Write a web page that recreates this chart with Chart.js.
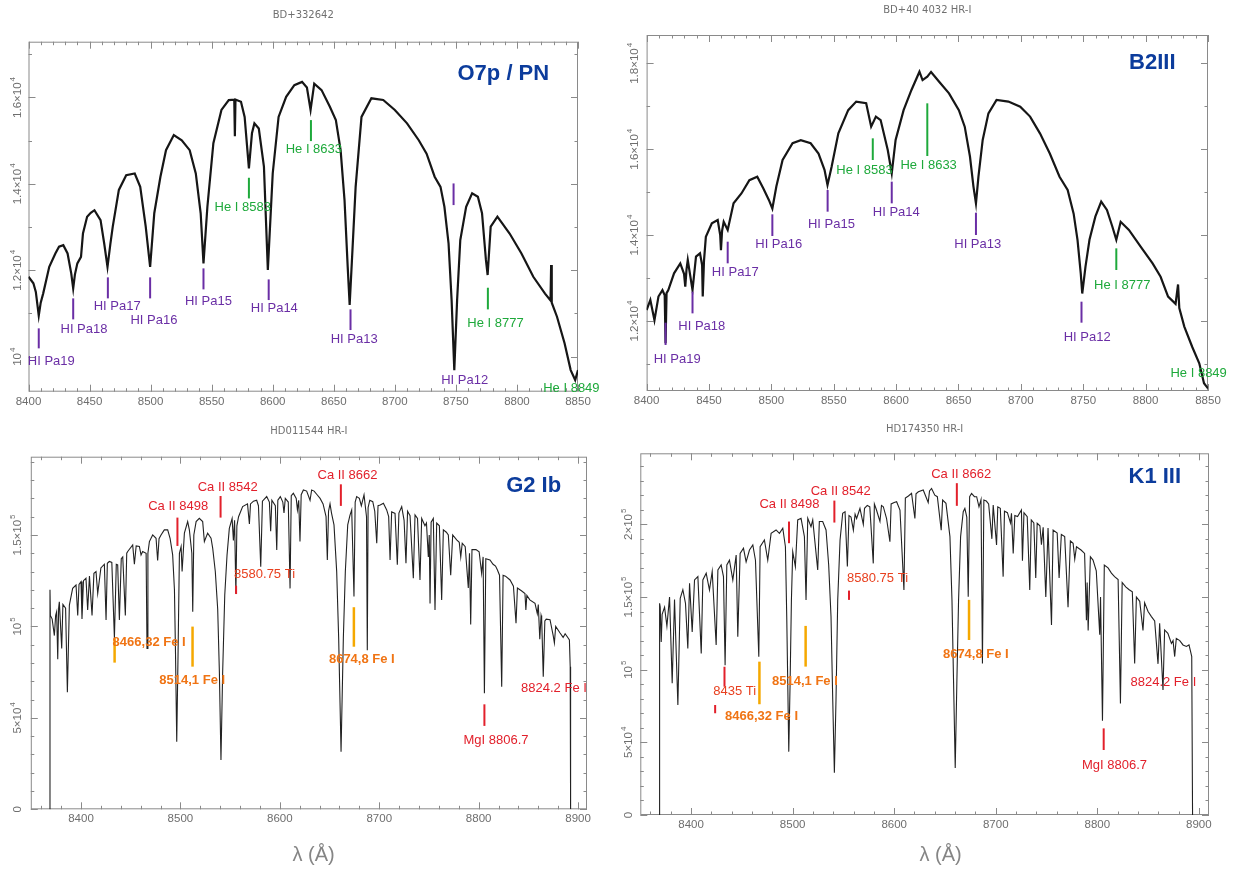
<!DOCTYPE html>
<html>
<head>
<meta charset="utf-8">
<title>CaT region spectra</title>
<script src="https://cdn.jsdelivr.net/npm/chart.js@4.4.1/dist/chart.umd.min.js"></script>
<style>
  body { margin: 0; background: #fff; width: 1233px; height: 871px; overflow: hidden; position: relative; }
  .panel { position: absolute; }
</style>
</head>
<body>
<div class="panel" style="left:0;top:0;width:616px;height:420px"><canvas id="p1"></canvas></div>
<div class="panel" style="left:616px;top:0;width:617px;height:420px"><canvas id="p2"></canvas></div>
<div class="panel" style="left:0;top:420px;width:616px;height:451px"><canvas id="p3"></canvas></div>
<div class="panel" style="left:616px;top:420px;width:617px;height:451px"><canvas id="p4"></canvas></div>
<script>
// star names and spectral types, one per panel
const starNames = ["BD+332642", "BD+40 4032 HR-I", "HD011544 HR-I", "HD174350 HR-I"];
const spectralTypes = ["O7p / PN", "B2III", "G2 Ib", "K1 III"];

// tick labels
const topXLabels = [8400, 8450, 8500, 8550, 8600, 8650, 8700, 8750, 8800, 8850];
const bottomXLabels = [8400, 8500, 8600, 8700, 8800, 8900];
// [value, mantissa, exponent]
const o7YLabels = [[10000, "", "4"], [12000, "1.2", "4"], [14000, "1.4", "4"], [16000, "1.6", "4"]];
const b2YLabels = [[12000, "1.2", "4"], [14000, "1.4", "4"], [16000, "1.6", "4"], [18000, "1.8", "4"]];
const g2YLabels = [[0, "0", ""], [50000, "5", "4"], [100000, "", "5"], [150000, "1.5", "5"]];
const k1YLabels = [[0, "0", ""], [50000, "5", "4"], [100000, "", "5"], [150000, "1.5", "5"], [200000, "2", "5"]];

// spectra: [wavelength (A), flux]
const o7Spectrum = [
  [8400,11850],[8404,11700],[8406,11500],[8408.4,10950],[8410,11250],[8412,11460],[8417,12080],[8422,12390],
  [8425,12545],[8428.5,12580],[8432,12390],[8435,11930],[8436.6,11580],[8438,11900],[8440,12160],[8443,12310],
  [8444.6,12850],[8448,13240],[8451,13330],[8454,13390],[8459,13160],[8462,12620],[8464.7,12080],[8467,12600],
  [8469,13010],[8474,13860],[8480,14200],[8487,14240],[8491.5,13930],[8496,13010],[8499.6,12080],[8503,13320],
  [8508,14160],[8512.6,14780],[8519,15130],[8525.5,15010],[8532,14780],[8537,14240],[8541,13320],[8543.3,12160],
  [8546.5,13470],[8551.4,14940],[8558,15710],[8564,15940],[8568.5,15950],[8569,15100],[8569.5,15950],[8574,15900],
  [8577,15550],[8580.5,14360],[8583,15170],[8585,15400],[8588.6,15280],[8592.8,14400],[8596,12010],[8600,14240],
  [8604.8,15550],[8611,16015],[8617.7,16285],[8624,16360],[8628,16230],[8631,15710],[8634,16320],[8640,16170],
  [8646.8,15785],[8651.7,15475],[8655.6,14780],[8658.8,13625],[8661.4,12080],[8663,11200],[8665.3,12470],[8667.9,13930],
  [8672.7,15550],[8680.8,15980],[8690.5,15940],[8700,15710],[8710,15400],[8719.6,15010],[8726,14700],[8732.6,14165],
  [8737.4,13930],[8740.6,13470],[8744,12620],[8746.5,11310],[8748.7,9690],[8751,11310],[8753.6,12700],[8758.4,13470],
  [8763.3,13780],[8768,13700],[8771.4,13320],[8774.6,12240],[8776,11890],[8778.5,13010],[8784,13240],[8794,12850],
  [8803.7,12390],[8813.4,11850],[8823,11460],[8827.5,11300],[8828,12120],[8828.5,11250],[8832.8,10925],[8839,10310],
  [8844,9690],[8847.7,9460],[8850,9690]
];

const b2Spectrum = [
  [8400,12256],[8403,12490],[8406.3,12020],[8409.5,12570],[8412.7,12720],[8414.5,12600],[8415.2,11480],[8416,12650],
  [8417.4,12720],[8422,13110],[8427,13340],[8430,13100],[8431,12800],[8432,13200],[8433,13420],[8436.8,12720],
  [8439.6,13500],[8442.8,13575],[8444.5,13300],[8445,12570],[8446,13400],[8447.5,13960],[8452.3,14275],[8457,14350],
  [8459,14000],[8459.6,13650],[8460.5,14100],[8461.8,14310],[8465,14120],[8469.7,14740],[8476,14970],[8482.4,15280],
  [8488.7,15360],[8493.5,15090],[8498,14820],[8500.8,14620],[8504,15130],[8509,15750],[8517,16140],[8523.6,16210],
  [8531.5,16140],[8537.8,15900],[8542.6,15520],[8545,15170],[8548.3,15590],[8553.7,16370],[8561.6,16910],[8568,17110],
  [8576,17070],[8580,16525],[8583.8,16760],[8587.6,16680],[8593.3,15980],[8596.5,15440],[8599.6,16215],[8606,16910],
  [8612.3,17380],[8618.7,17805],[8621.2,17610],[8625,17690],[8628,17800],[8634.5,17570],[8642.4,17300],[8650.3,16910],
  [8655,16525],[8659.2,15830],[8662,15130],[8664,14740],[8666,15360],[8669.4,16215],[8674,16835],[8680.5,17150],
  [8690,17110],[8699.5,16990],[8707.4,16760],[8715.3,16370],[8723.2,15900],[8731,15360],[8737.5,15050],[8742.3,14500],
  [8745.4,13890],[8748,13110],[8749.2,12640],[8751.8,13265],[8755,13890],[8759.7,14430],[8764.4,14780],[8769,14585],
  [8773.3,14200],[8776.5,13890],[8780,14310],[8786.6,14120],[8796,13730],[8805.6,13340],[8812,13030],[8818,12570],
  [8824,12400],[8826,12850],[8827,12300],[8831,11870],[8837.3,11400],[8843,11015],[8846.8,10550],[8850,10430]
];

const g2Spectrum = [
  [8368.5,0],[8368.8,120000],[8369.2,106000],[8371,104000],[8373.2,95000],[8374.5,106000],[8375.5,108000],[8376.6,82000],
  [8377.5,110000],[8378.2,113500],[8380.6,88000],[8381.8,112000],[8384.5,110000],[8386.3,64000],[8388.3,111700],[8391.6,120800],
  [8395,122600],[8396.7,106000],[8398,123000],[8400,124500],[8401,104000],[8402.5,125000],[8405,126300],[8406.7,109000],
  [8408.5,127500],[8411.1,106000],[8413,129000],[8415.1,130000],[8416.8,118000],[8420,132000],[8423.5,134000],[8425.2,103500],
  [8426.5,134500],[8428.5,135500],[8431,135000],[8433.6,93500],[8435.5,134000],[8436.9,133700],[8438.6,103500],[8440.5,137000],
  [8442,138000],[8444.6,106000],[8446,140000],[8447,141000],[8452,144600],[8453.7,134000],[8455.5,144000],[8458.7,143700],
  [8460.4,139100],[8462,141000],[8465.5,140000],[8466.4,88000],[8467.3,140000],[8468.8,146400],[8472.1,150000],[8475.5,148200],
  [8477.1,136000],[8478.5,148000],[8480.5,150000],[8483.8,152800],[8487.2,152800],[8489.6,148200],[8492.2,139100],[8494,120000],
  [8495.1,84000],[8496.3,37000],[8497.6,84000],[8499,140000],[8500.7,143700],[8501.7,130000],[8504,151000],[8507.3,157300],
  [8509,152800],[8511.5,140000],[8512.4,108000],[8513.5,150000],[8515.8,157300],[8519,159100],[8522.4,157300],[8524.1,146400],
  [8527.4,151000],[8530.8,148200],[8532.5,142700],[8535.1,130000],[8537.5,109500],[8539.2,75000],[8540.8,27000],[8542.5,75000],
  [8544.6,117000],[8546.9,139000],[8549.2,153600],[8552,159000],[8553.3,147000],[8554.5,158000],[8555.8,118000],[8556.8,155000],
  [8558.5,160000],[8562.6,165500],[8567.5,167000],[8569.4,156000],[8570.5,167000],[8573.5,168500],[8576.7,169000],[8578.5,166000],
  [8580.8,132700],[8582.5,168500],[8586.8,171000],[8589.5,168000],[8590.8,152000],[8592,169000],[8595.5,166000],[8596.9,141800],
  [8598,169000],[8600.5,171000],[8603,168000],[8604.2,162000],[8605.5,170000],[8608.5,168000],[8610.3,120800],[8611.5,171500],
  [8613.6,172800],[8616.5,170000],[8617.7,163700],[8619,169000],[8620.3,146400],[8621.5,172000],[8623.7,174600],[8627,174000],
  [8630.4,169000],[8632,174600],[8634.5,174000],[8637.5,172000],[8640.5,170000],[8643.5,167000],[8646.5,160000],[8647.8,136300],
  [8649,163000],[8650.5,167000],[8652,162000],[8654.5,155500],[8657.2,130000],[8659.2,93500],[8661.6,31500],[8663.9,93500],
  [8665.9,130000],[8668.3,155500],[8670.6,160900],[8672.3,163700],[8674.6,116300],[8675.8,168000],[8677.3,171000],[8680,170000],
  [8682,166000],[8684.7,171900],[8687.2,160000],[8688,87000],[8688.8,165000],[8690.5,169000],[8693.5,168200],[8695.5,163000],
  [8697.5,145500],[8698.8,166000],[8701,166400],[8704.2,167300],[8707.5,163700],[8709.5,160000],[8710.9,136300],[8712.5,162700],
  [8715.9,161800],[8718.2,133700],[8719.8,162000],[8722.6,165500],[8725,158000],[8726.9,134500],[8728.5,163000],[8731,160500],
  [8734.3,126300],[8736,161000],[8738.5,159000],[8741,125400],[8742.7,159000],[8746,155000],[8747.5,156500],[8749.4,138000],
  [8750.3,150000],[8751.1,112600],[8752.2,157000],[8754.4,159000],[8756.1,109000],[8757.8,156500],[8760.5,155000],[8762.8,114500],
  [8764.5,152800],[8767.5,151500],[8769.5,150000],[8771.9,128000],[8773.9,150000],[8777.9,147300],[8780.5,146000],[8782,138000],
  [8783.5,145500],[8786.5,143600],[8789.6,121000],[8790.8,140000],[8792,101000],[8793.3,142000],[8797.3,142000],[8800.5,140800],
  [8803,129000],[8804.5,138000],[8805.8,63400],[8807.2,137000],[8811.4,136300],[8814.5,134000],[8817,133000],[8818.8,131000],
  [8821,128000],[8823.2,67000],[8824.6,128000],[8827,127500],[8831.6,125400],[8835,122000],[8837.6,101700],[8839,121000],
  [8843,119500],[8846.6,118000],[8847.5,109000],[8848.5,117000],[8851.5,114500],[8856.7,112600],[8859,107000],[8860,112000],
  [8861.5,93000],[8862.8,106000],[8863.4,104400],[8865,72500],[8866.6,103000],[8868,104000],[8871.8,103700],[8875,95000],
  [8876.2,91000],[8877.5,100000],[8881.9,96400],[8885,94000],[8887,96000],[8890.2,93500],[8891.3,92600],[8892.1,78000],
  [8892.5,0]
];

const k1Spectrum = [
  [8368.8,0],[8369,145600],[8369.6,143000],[8370.6,119000],[8371.5,138000],[8373.9,143000],[8376.2,130000],[8378.8,149900],
  [8381.4,90600],[8383.7,148200],[8387,75700],[8389.3,149000],[8391.9,155000],[8394.5,145600],[8396.8,114600],[8398.5,159400],
  [8401.1,126000],[8403.4,161700],[8406.7,164000],[8410,111200],[8411.6,161700],[8414.9,166300],[8418.1,154800],[8420.8,167500],
  [8424.7,116900],[8426.4,168600],[8429.6,172000],[8431.9,164000],[8433.5,103000],[8435.2,172000],[8437.8,175300],[8441.1,161700],
  [8444.4,178800],[8446,122700],[8448.3,179900],[8451.6,183500],[8454.2,174200],[8457.5,182300],[8460.8,185800],[8463.4,175300],
  [8466.7,108900],[8468,184600],[8472.2,189200],[8475.5,175300],[8478.8,193800],[8483.7,196100],[8487,193800],[8490.3,197300],
  [8492.9,184600],[8494.2,136500],[8495.2,90600],[8496.2,43600],[8497.5,90600],[8498.8,147900],[8500.1,181200],[8502.7,170900],
  [8505,203000],[8508.3,204100],[8511.6,191500],[8513.2,147900],[8514.9,204100],[8518.1,198400],[8519.8,203000],[8524.7,168600],
  [8526.3,201900],[8529.6,201900],[8532.9,196100],[8535.5,172000],[8537.8,136500],[8539.5,79100],[8541.1,29100],[8542.7,79100],
  [8544.4,147900],[8546.7,189200],[8549.3,207600],[8551.6,208700],[8553.9,170900],[8555.5,206000],[8557.5,205000],[8559.8,196000],
  [8561.5,207000],[8563,204000],[8566.3,210900],[8569.6,200000],[8570.8,211000],[8573.5,213000],[8576,212000],[8579.4,173100],
  [8580.5,214000],[8582.5,210000],[8586,202000],[8587.5,213000],[8589.3,212100],[8592.5,204000],[8595.8,188000],[8597,214000],
  [8600,215000],[8602.4,215500],[8605.7,209800],[8609.6,154800],[8611,218000],[8614,219500],[8617.1,221300],[8620.4,204000],
  [8621.5,221000],[8623.8,222400],[8628.6,223600],[8633.5,215000],[8634.8,223000],[8636.8,224700],[8640,220000],[8642.5,219000],
  [8646.3,196000],[8647.7,216700],[8651,214400],[8654.9,191500],[8656.9,147900],[8658.5,90600],[8660.1,32300],[8661.7,90600],
  [8663.4,147900],[8665.4,191500],[8668,208700],[8669.6,210900],[8671.5,205000],[8672.9,150200],[8674.3,219000],[8676.2,221300],
  [8679,219000],[8681.2,219000],[8683.5,212000],[8685.5,217000],[8686.9,104300],[8688.3,216700],[8690.7,216000],[8693,214000],
  [8696.2,190000],[8697.5,213200],[8700.8,185800],[8702,212000],[8704.5,211000],[8707.3,164000],[8708.6,209000],[8711.5,208000],
  [8714.5,201000],[8715.5,207600],[8717.2,180000],[8718.8,206000],[8721.5,205300],[8725.3,209800],[8726.3,175000],[8727.8,208000],
  [8731,205200],[8733.5,154800],[8735,203000],[8737.5,201000],[8739.4,163000],[8740.8,200700],[8743.5,199000],[8745,186000],
  [8746.7,198000],[8749.3,150000],[8751.5,197500],[8754.9,130800],[8756.5,196000],[8760.5,194000],[8762.4,163000],[8764.6,193000],
  [8767.9,191500],[8771.2,143000],[8773.5,188500],[8776.2,186900],[8777.8,176000],[8779.5,184600],[8784,182300],[8787.5,180000],
  [8789.3,134000],[8790,160000],[8791,127000],[8793.2,177700],[8795.8,175400],[8799,168000],[8802.4,124000],[8803.2,150000],
  [8805.1,64900],[8806.9,172000],[8810.6,170000],[8813.9,166400],[8817,164000],[8820.5,162000],[8822.8,76800],[8824.5,160000],
  [8828,157000],[8831.4,155000],[8834.5,153500],[8836.8,104300],[8838.5,150000],[8841.8,147000],[8845,127000],[8846.6,146000],
  [8850,140000],[8853.3,136500],[8856.5,133500],[8859.8,104000],[8861.4,131900],[8864.7,86000],[8866.3,127300],[8869.5,125000],
  [8873,118000],[8874.6,120000],[8876.2,109000],[8877.8,121500],[8881.2,120000],[8884.4,117000],[8887.7,116000],[8890.3,117000],
  [8892,112000],[8893,109000],[8893.8,0]
];

// line identifications: [text, kind, tick wavelength, tick top flux, tick bottom flux, label wavelength, label flux]
const o7Lines = [
  ["HI Pa19", "pa", 8408.4, 10656, 10193, 8399.4, 9884],
  ["HI Pa18", "pa", 8436.6, 11350, 10864, 8426.2, 10640],
  ["HI Pa17", "pa", 8465, 11836, 11350, 8453.4, 11172],
  ["HI Pa16", "pa", 8499.6, 11836, 11350, 8483.5, 10848],
  ["HI Pa15", "pa", 8543.3, 12044, 11558, 8528.1, 11288],
  ["HI Pa14", "pa", 8596.7, 11789, 11311, 8582.1, 11118],
  ["HI Pa13", "pa", 8663.7, 11095, 10617, 8647.5, 10409],
  ["HI Pa12", "pa", 8748.1, 14010, 13509, 8738, 9460],
  ["He I 8583", "he", 8580.5, 14141, 13663, 8552.4, 13455],
  ["He I 8633", "he", 8631.3, 15476, 14990, 8610.6, 14797],
  ["He I 8777", "he", 8776.2, 11596, 11095, 8759.4, 10771],
  ["He I 8849", "he", null, 0, 0, 8821.5, 9267]
];
const b2Lines = [
  ["HI Pa19", "pa", 8415.2, 11961, 11441, 8405.7, 11115],
  ["HI Pa18", "pa", 8436.8, 12683, 12178, 8425.4, 11884],
  ["HI Pa17", "pa", 8465, 13847, 13343, 8452.3, 13125],
  ["HI Pa16", "pa", 8500.8, 14484, 13979, 8487.1, 13785],
  ["HI Pa15", "pa", 8545.1, 15050, 14546, 8529.3, 14251],
  ["HI Pa14", "pa", 8596.5, 15245, 14740, 8581.3, 14530],
  ["HI Pa13", "pa", 8664, 14523, 14003, 8646.6, 13785],
  ["HI Pa12", "pa", 8748.6, 12450, 11961, 8734.3, 11620],
  ["He I 8583", "he", 8581.3, 16254, 15749, 8552.1, 15516],
  ["He I 8633", "he", 8625, 17069, 15842, 8603.5, 15633],
  ["He I 8777", "he", 8776.5, 13692, 13188, 8758.7, 12838],
  ["He I 8849", "he", null, 0, 0, 8819.9, 10781]
];
const g2Lines = [
  ["Ca II 8498", "ca", 8497, 159500, 144000, 8467.6, 165500],
  ["Ca II 8542", "ca", 8540.4, 171300, 159500, 8517.4, 176000],
  ["Ca II 8662", "ca", 8661.4, 177700, 165900, 8637.9, 182800],
  ["8580.75 Ti", "ti", 8556, 122300, 117700, 8554, 128700],
  ["MgI 8806.7", "ca", 8805.8, 57400, 45600, 8784.7, 37400],
  ["8824.2 Fe I", "ca", null, 0, 0, 8842.7, 66200],
  ["8466,32 Fe I", "fe", 8433.8, 93500, 80200, 8431.8, 91100],
  ["8514,1 Fe I", "fe", 8512.2, 99900, 78000, 8478.8, 70400],
  ["8674,8 Fe I", "fe", 8674.5, 110500, 88900, 8649.4, 81700]
];
const k1Lines = [
  ["Ca II 8498", "ca", 8496.4, 201900, 187000, 8467.3, 213800],
  ["Ca II 8542", "ca", 8541.1, 216300, 201200, 8517.8, 222500],
  ["Ca II 8662", "ca", 8661.7, 228300, 212700, 8636.4, 234000],
  ["8580.75 Ti", "ti", 8555.5, 154400, 148000, 8553.6, 162900],
  ["8435 Ti", "ti", 8432.9, 102000, 88300, 8421.8, 84900],
  ["", "ti", 8423.7, 75700, 70000, null, null],
  ["MgI 8806.7", "ca", 8806.3, 59600, 44700, 8784.9, 34000],
  ["8824.2 Fe I", "ca", null, 0, 0, 8832.7, 91300],
  ["8466,32 Fe I", "fe", 8467.3, 105500, 76200, 8433.4, 67700],
  ["8514,1 Fe I", "fe", 8512.8, 130100, 102100, 8479.7, 91800],
  ["8674,8 Fe I", "fe", 8673.7, 148000, 120400, 8648, 110800]
];

// [text colour, tick colour, bold]
const kindStyle = {
  pa: ["#6a2ea5", "#6a2ea5", false],
  he: ["#1ea93b", "#1ea93b", false],
  ca: ["#e2202b", "#e2202b", false],
  ti: ["#e8401f", "#e2202b", false],
  fe: ["#f07414", "#f5a800", true]
};

const FONT = '"Liberation Sans", Arial, sans-serif';
const axisColor = "#8a8a8a";
const tickTextColor = "#6e6e6e";

function drawSci(ctx, x, y, mant, exp) {
   ctx.save();
   ctx.translate(x, y);
   ctx.rotate(-Math.PI / 2);
   const base = exp ? (mant ? mant + "\u00d710" : "10") : mant;
   ctx.font = "11.5px " + FONT;
   const w1 = ctx.measureText(base).width;
   ctx.font = "8px " + FONT;
   const w2 = exp ? ctx.measureText(exp).width + 1 : 0;
   const sx = -(w1 + w2) / 2;
   ctx.fillStyle = tickTextColor;
   ctx.textAlign = "left";
   ctx.textBaseline = "middle";
   ctx.font = "11.5px " + FONT;
   ctx.fillText(base, sx, 0);
   if (exp) {
      ctx.font = "8px " + FONT;
      ctx.fillText(exp, sx + w1 + 1, -5);
   }
   ctx.restore();
}

function panelPlugin(o) {
   return {
      id: "panel",
      beforeDatasetsDraw(chart) {
         const { ctx, chartArea: a, scales: { x, y } } = chart;
         ctx.save();
         ctx.strokeStyle = axisColor;
         ctx.lineWidth = 1;
         ctx.strokeRect(a.left + 0.5, a.top + 0.5, a.right - a.left - 1, a.bottom - a.top - 1);
         ctx.beginPath();
         for (let v = o.xTickFrom; v <= o.xMax; v += o.xMinor) {
            const px = Math.round(x.getPixelForValue(v)) + 0.5;
            const len = v % o.xMajor === 0 ? 7 : 3.5;
            ctx.moveTo(px, a.bottom); ctx.lineTo(px, a.bottom - len);
            ctx.moveTo(px, a.top); ctx.lineTo(px, a.top + len);
         }
         for (let v = o.yTickFrom; v <= o.yMax; v += o.yMinor) {
            const py = Math.round(y.getPixelForValue(v)) + 0.5;
            const len = v % o.yMajor === 0 ? 7 : 3.5;
            ctx.moveTo(a.left, py); ctx.lineTo(a.left + len, py);
            ctx.moveTo(a.right, py); ctx.lineTo(a.right - len, py);
         }
         ctx.stroke();

         // tick labels
         ctx.fillStyle = tickTextColor;
         ctx.font = "11.5px " + FONT;
         ctx.textAlign = "center";
         ctx.textBaseline = "middle";
         o.xLabels.forEach(v => ctx.fillText(String(v), x.getPixelForValue(v), a.bottom + 10));
         o.yLabels.forEach(l => drawSci(ctx, a.left - o.yLabelGap, y.getPixelForValue(l[0]), l[1], l[2]));

         // star name over the frame
         ctx.font = '10px "DejaVu Sans", sans-serif';
         ctx.fillStyle = "#707070";
         ctx.fillText(o.title, (a.left + a.right) / 2, o.titleY);

         if (o.axisTitle) {
            ctx.font = "20px " + FONT;
            ctx.fillStyle = "#858585";
            ctx.fillText("\u03bb (\u00c5)", x.getPixelForValue(o.axisTitleAt), o.axisTitleY);
         }
         ctx.restore();
      },
      afterDatasetsDraw(chart) {
         const { ctx, scales: { x, y } } = chart;
         ctx.save();
         o.lines.forEach(l => {
            const st = kindStyle[l[1]];
            if (l[2] !== null) {
               ctx.strokeStyle = st[1];
               ctx.lineWidth = l[1] === "fe" ? 2.5 : 2;
               ctx.beginPath();
               const px = x.getPixelForValue(l[2]);
               ctx.moveTo(px, y.getPixelForValue(l[3]));
               ctx.lineTo(px, y.getPixelForValue(l[4]));
               ctx.stroke();
            }
            if (l[0]) {
               ctx.fillStyle = st[0];
               ctx.font = (st[2] ? "bold 13px " : "13px ") + FONT;
               ctx.textAlign = "left";
               ctx.textBaseline = "middle";
               ctx.fillText(l[0], x.getPixelForValue(l[5]), y.getPixelForValue(l[6]));
            }
         });
         // spectral type
         ctx.fillStyle = "#0c3c9c";
         ctx.font = "bold 22px " + FONT;
         ctx.textAlign = "right";
         ctx.textBaseline = "middle";
         ctx.fillText(o.type, x.getPixelForValue(o.typeAt[0]), y.getPixelForValue(o.typeAt[1]));
         ctx.restore();
      }
   };
}

function makePanel(id, spectrum, o) {
   return new Chart(document.getElementById(id), {
      type: "line",
      data: {
         datasets: [{
            data: spectrum.map(p => ({ x: p[0], y: p[1] })),
            borderColor: o.lineColor,
            borderWidth: o.lineWidth,
            pointRadius: 0,
            tension: 0,
            fill: false
         }]
      },
      options: {
         responsive: true,
         maintainAspectRatio: false,
         animation: false,
         devicePixelRatio: 1,
         events: [],
         layout: { padding: o.padding },
         scales: {
            x: { type: "linear", min: o.xMin, max: o.xMax, display: false },
            y: { type: "linear", min: o.yMin, max: o.yMax, display: false }
         },
         plugins: { legend: { display: false }, tooltip: { enabled: false } }
      },
      plugins: [panelPlugin(o)]
   });
}

makePanel("p1", o7Spectrum, {
   padding: { left: 28.5, top: 41.7, right: 38, bottom: 28.3 },
   xMin: 8400, xMax: 8850, yMin: 9190, yMax: 17290,
   xTickFrom: 8400, xMinor: 10, xMajor: 50, yTickFrom: 10000, yMinor: 1000, yMajor: 2000,
   xLabels: topXLabels, yLabels: o7YLabels, yLabelGap: 11,
   title: starNames[0], titleY: 15.7,
   lines: o7Lines, type: spectralTypes[0], typeAt: [8826.4, 16540],
   lineColor: "#161616", lineWidth: 2.2
});

makePanel("p2", b2Spectrum, {
   padding: { left: 30.6, top: 35, right: 25, bottom: 29 },
   xMin: 8400, xMax: 8850, yMin: 10370, yMax: 18660,
   xTickFrom: 8400, xMinor: 10, xMajor: 50, yTickFrom: 11000, yMinor: 1000, yMajor: 2000,
   xLabels: topXLabels, yLabels: b2YLabels, yLabelGap: 12,
   title: starNames[1], titleY: 10,
   lines: b2Lines, type: spectralTypes[1], typeAt: [8824, 18016],
   lineColor: "#161616", lineWidth: 2.2
});

makePanel("p3", g2Spectrum, {
   padding: { left: 30.8, top: 36.7, right: 29, bottom: 61.7 },
   xMin: 8349.5, xMax: 8909, yMin: 0, yMax: 192800,
   xTickFrom: 8360, xMinor: 20, xMajor: 100, yTickFrom: 0, yMinor: 10000, yMajor: 50000,
   xLabels: bottomXLabels, yLabels: g2YLabels, yLabelGap: 13,
   title: starNames[2], titleY: 11.7,
   axisTitle: true, axisTitleAt: 8634, axisTitleY: 435,
   lines: g2Lines, type: spectralTypes[2], typeAt: [8883, 177000],
   lineColor: "#222222", lineWidth: 1.1
});

makePanel("p4", k1Spectrum, {
   padding: { left: 24.3, top: 33.3, right: 24, bottom: 56 },
   xMin: 8350, xMax: 8910, yMin: 0, yMax: 248850,
   xTickFrom: 8360, xMinor: 20, xMajor: 100, yTickFrom: 0, yMinor: 10000, yMajor: 50000,
   xLabels: bottomXLabels, yLabels: k1YLabels, yLabelGap: 11.5,
   title: starNames[3], titleY: 9.3,
   axisTitle: true, axisTitleAt: 8645.7, axisTitleY: 435,
   lines: k1Lines, type: spectralTypes[3], typeAt: [8882.5, 232800],
   lineColor: "#222222", lineWidth: 1.1
});
</script>
</body>
</html>
